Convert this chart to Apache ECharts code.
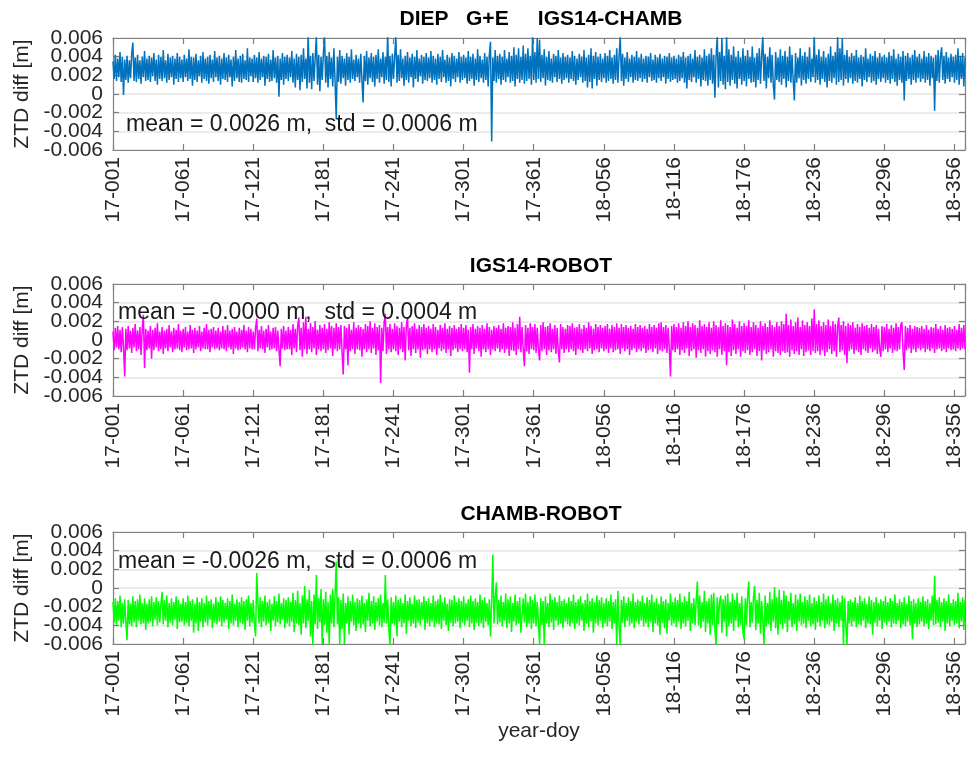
<!DOCTYPE html>
<html>
<head>
<meta charset="utf-8">
<script src="https://cdn.jsdelivr.net/npm/echarts@6/dist/echarts.min.js"></script>
<style>
html,body{margin:0;padding:0;background:#ffffff;}
#chart{width:967px;height:757px;}
</style>
</head>
<body>
<div id="chart"></div>
<script>
// ---- data ----
const FIRST_DAY = 1;          // 17-001, one value per day
const UNIT = 1e-4;            // stored values are in units of 0.1 mm

const xTickDays   = [1, 61, 121, 181, 241, 301, 361, 421, 481, 541, 601, 661, 721];
const xTickLabels = ['17-001','17-061','17-121','17-181','17-241','17-301','17-361',
                     '18-056','18-116','18-176','18-236','18-296','18-356'];
const yTickValues = [-0.006, -0.004, -0.002, 0, 0.002, 0.004, 0.006];
const yTickLabels = ['-0.006','-0.004','-0.002','0','0.002','0.004','0.006'];

const panelTitles = ['DIEP   G+E     IGS14-CHAMB', 'IGS14-ROBOT', 'CHAMB-ROBOT'];
const statsTexts  = ['mean = 0.0026 m,  std = 0.0006 m',
                     'mean = -0.0000 m,  std = 0.0004 m',
                     'mean = -0.0026 m,  std = 0.0006 m'];
const seriesColors = ['#0072BD', '#FF00FF', '#00FF00'];

// IGS14-CHAMB ZTD difference (0.1 mm)
const igsChamb = [
35,16,42,14,38,18,45,13,40,-1,37,15,41,12,36,17,43,55,14,39,13,42,16,36,11,40,18,46,14,38,
15,41,13,39,19,44,14,37,10,42,16,40,14,47,17,36,12,43,15,39,18,41,10,38,16,44,13,40,17,37,
13,42,18,38,14,48,16,40,9,39,15,43,13,36,19,41,12,45,16,38,14,40,11,42,17,37,13,46,18,39,
14,41,10,38,16,44,15,39,13,42,18,37,8,40,14,47,17,38,13,41,12,43,16,36,15,49,13,39,19,38,
13,42,17,39,12,45,15,38,18,41,9,40,16,43,13,37,14,47,17,39,12,41,-3,38,15,44,10,40,16,42,
14,39,18,46,12,38,7,43,15,40,4,42,13,49,16,38,6,65,12,41,5,44,14,39,62,10,42,3,40,15,
43,62,12,41,7,45,16,39,8,49,14,-27,40,13,47,11,41,17,38,9,44,15,40,12,48,16,37,14,42,18,
38,12,43,15,-9,41,14,46,10,39,17,44,13,40,8,42,16,48,12,38,18,45,11,40,15,65,13,41,8,43,
16,40,62,12,42,14,48,17,38,9,41,15,45,12,39,18,43,7,40,16,47,13,38,19,42,11,40,15,44,14,
39,17,46,12,41,15,38,10,43,16,40,13,47,18,37,12,42,14,39,8,44,16,41,13,38,18,45,12,40,15,
42,17,39,11,46,14,40,16,43,9,38,15,48,13,41,17,37,12,44,15,40,8,42,56,-51,39,14,47,12,41,
16,43,10,40,15,47,13,38,18,45,12,41,14,50,8,42,16,49,12,40,15,52,11,43,14,49,16,41,10,62,
15,45,12,60,16,58,13,42,17,48,9,40,15,46,14,38,12,43,18,41,13,47,16,39,11,44,15,40,17,42,
12,39,16,46,14,41,10,38,15,43,18,40,12,47,14,39,7,42,13,49,6,41,16,45,9,40,15,43,13,38,
17,44,12,41,14,47,16,39,11,42,15,49,12,40,62,14,43,9,39,16,45,13,38,18,42,12,40,15,46,14,
39,17,43,13,38,16,41,12,40,18,44,14,37,15,42,12,39,17,43,14,38,18,41,11,40,16,44,13,39,15,
41,16,38,12,42,14,40,17,45,12,39,6,41,15,43,13,38,18,47,12,40,16,42,8,39,15,48,14,41,9,
43,15,49,11,42,-4,40,62,7,45,14,60,10,41,5,62,13,48,9,42,15,51,11,40,6,46,16,39,10,49,
14,41,8,47,16,40,12,51,13,39,7,44,15,49,11,41,62,14,43,6,40,17,50,12,42,9,-6,45,15,39,
13,48,10,41,16,46,7,40,14,51,12,42,15,-7,44,12,39,17,49,9,41,15,45,11,40,16,50,13,38,18,
62,12,42,15,48,10,40,16,46,13,39,7,43,14,51,12,41,17,45,10,62,13,49,15,60,9,42,16,47,12,
40,17,44,11,41,14,47,12,39,16,42,8,40,15,49,13,38,18,43,12,41,14,46,10,39,16,44,13,40,17,
42,12,39,15,45,11,41,16,48,13,38,9,43,15,40,12,46,-7,41,14,44,16,39,10,42,15,47,12,40,17,
43,13,38,16,46,12,40,15,44,9,41,17,39,-18,42,14,47,12,40,50,15,41,11,45,16,39,13,43,18,40,
12,42,15,49,10,41,16,44,8,39
];

// IGS14-ROBOT ZTD difference (0.1 mm)
const igsRobot = [
9,-11,13,-8,15,-10,11,-13,14,-8,-39,12,-11,15,-9,10,-14,13,-8,17,-12,10,-10,14,-16,11,27,-30,12,-11,
10,-9,15,-20,11,-11,13,-8,18,-12,9,-10,14,-15,10,-9,12,-12,16,-8,9,-13,13,-10,11,-9,17,-11,10,-13,
12,-8,14,-11,9,-10,16,-9,11,-14,13,-10,10,-8,15,-12,9,-9,13,-10,17,-10,11,-13,12,-8,14,-10,10,-9,
13,-11,9,-9,15,-10,11,-12,16,-8,10,-10,12,-15,14,-9,9,-11,13,-10,11,-8,16,-10,10,-13,14,-9,12,-10,
9,-10,13,23,-12,11,-9,15,-10,10,-14,12,-8,16,-11,9,-10,13,-9,14,-12,10,-10,-28,12,-9,15,-11,10,-10,
14,-10,11,-16,17,-9,12,-13,15,24,-11,13,-18,19,-10,25,-15,12,-10,18,-13,14,-9,20,-16,11,-10,16,-12,13,
-10,17,-14,12,-11,19,-9,15,-17,13,-10,18,-12,14,-10,16,-13,-37,15,-10,13,-27,17,-12,11,-10,19,-15,13,-10,
16,-11,14,-18,12,-10,17,-13,15,-10,20,-14,13,-9,18,-16,14,-11,16,-46,13,-12,19,28,-15,14,-10,17,-13,12,
-10,18,-12,15,-16,13,-10,19,-13,14,-22,16,24,-11,13,-17,15,-10,18,-14,12,-10,16,-19,14,-11,17,-10,13,-15,
15,-10,12,-13,17,-10,14,-16,11,-9,16,-12,13,-10,18,-14,12,-10,15,-17,13,-11,16,-9,12,-13,14,-10,17,-12,
13,-10,16,-13,11,-35,14,-10,17,-15,12,-9,15,-12,13,-18,16,-10,12,-13,18,-10,14,-16,11,-10,15,-12,13,-9,
16,-13,12,-10,18,-14,13,-10,15,-17,14,-11,19,-12,13,-16,17,-10,25,-13,14,-10,-28,16,-12,13,-15,18,-10,14,
-11,17,-14,13,-10,-22,16,-12,19,-10,14,-16,15,-11,18,-13,12,-10,16,-15,13,-12,-24,17,-10,14,-14,12,-10,16,
-13,15,-10,18,-12,13,-16,14,-10,17,-11,12,-14,16,-10,13,-12,19,-9,15,-15,12,-11,17,-10,14,-13,16,-9,13,
-12,15,-10,17,-14,12,-9,16,-13,14,-11,18,-10,13,-15,17,-9,14,-12,16,-10,13,-16,15,-11,12,-9,17,-13,14,
-10,16,-12,13,-9,15,-14,12,-11,17,-10,14,-13,16,-9,13,-15,18,-11,19,-12,14,-10,16,-14,13,-9,-39,15,-11,
17,-13,14,-10,18,-16,13,-11,19,-14,15,-9,20,-17,14,-12,18,-10,16,-19,13,-11,21,-14,15,-10,17,-18,14,-12,
19,-15,13,-11,20,-13,16,-18,14,-10,21,-16,15,-12,18,-27,16,-13,14,-17,22,-11,17,-15,13,-10,20,-18,15,-12,
18,-14,15,-11,21,-16,14,-13,19,-10,16,-17,13,-12,20,-22,15,-11,18,-15,14,-13,21,-10,16,-18,14,-12,19,-14,
15,-16,20,-12,17,-14,28,-13,16,-18,22,-11,15,-15,19,-12,24,-16,14,-10,21,-17,16,-13,19,-11,15,-16,23,-12,
33,-14,17,-12,21,-16,15,-11,19,-17,16,-13,22,-10,15,-15,20,-12,17,-18,14,24,-13,16,-11,20,-16,15,-25,18,
-12,16,-10,19,-15,13,-11,17,-13,14,-16,18,-10,15,-12,16,-14,13,-9,17,-13,14,-11,16,-15,12,-10,-18,15,-12,
14,-10,17,-13,12,-9,16,-14,13,-11,18,-12,14,-10,16,19,-13,-32,15,-11,13,-9,16,-14,12,-10,15,-13,14,-9,
13,-11,15,-9,12,-13,16,-10,11,-12,14,-9,13,-14,17,-10,12,-9,15,-12,11,-10,16,-13,13,-9,14,-11,12,-10,
15,-12,11,-9,17,-11,13,-9,16,-10
];

// CHAMB-ROBOT ZTD difference (0.1 mm)
const chambRobot = [
-15,-37,-11,-40,-14,-35,-8,-42,-16,-38,-12,-36,-56,-13,-39,-17,-41,-9,-37,-14,-42,-12,-35,-7,-39,-16,-38,-11,-45,-17,
-38,-12,-36,-9,-41,-15,-34,-10,-40,-14,-37,-17,-4,-39,-13,-35,-8,-42,-16,-37,-11,-40,-15,-34,-9,-44,-13,-37,-17,-36,
-11,-40,-15,-37,-8,-41,-14,-35,-12,-48,-17,-38,-10,-46,-15,-36,-11,-42,-16,-37,-8,-40,-14,-34,-12,-43,-17,-37,-10,-39,
-15,-36,-9,-41,-13,-37,-16,-34,-11,-44,-14,-38,-7,-40,-17,-35,-12,-42,-15,-37,-10,-39,-14,-45,-12,-35,-8,-41,-16,-37,
-13,-39,-52,16,-16,-38,-10,-42,-14,-36,-8,-40,-15,-37,-12,-46,-17,-35,-9,-41,-14,-37,-6,-39,-16,-34,-11,-43,-13,-38,
-10,-41,-15,-36,-5,-47,-13,-38,-3,-40,-16,-50,-8,-38,2,-43,-12,-35,-2,-52,-14,-62,-7,-39,14,-44,-11,-37,-1,-60,
-12,-40,-4,-48,-15,-62,-7,-38,-1,-42,-40,28,-39,-10,-62,-13,-44,-6,-60,-16,-38,-9,-50,-14,-36,-7,-40,-15,-46,-11,
-38,-13,-43,-8,-39,-16,-47,-12,-35,-5,-41,-14,-38,-9,-45,-15,-36,-11,-40,-7,-42,-16,-37,14,-38,-12,-44,-62,-10,-38,
-15,-40,-8,-52,-13,-36,-11,-42,-16,-38,-7,-49,-14,-35,-10,-41,-17,-38,-8,-43,-13,-37,-12,-40,-15,-34,-9,-45,-14,-38,
-11,-41,-16,-36,-8,-42,-14,-38,-12,-39,-7,-44,-15,-35,-10,-40,-17,-46,-12,-37,-13,-41,-8,-38,-15,-36,-11,-43,-14,-37,
-9,-40,-16,-35,-12,-42,-8,-38,-14,-45,-11,-37,-15,-41,-7,-38,-13,-43,-10,-36,-16,-40,-12,-52,-15,36,-38,-11,6,-39,
-13,-37,-8,-41,-15,-35,-6,-43,-12,-38,-9,-47,-16,-36,-7,-40,-14,-38,-10,-48,-48,-11,-37,-6,-42,-15,-38,-9,-44,-13,
-38,-7,-41,-15,-36,-62,-11,-40,-14,-62,-9,-38,-16,-42,-6,-37,-13,-45,-10,-35,-15,-40,-8,-38,-14,-43,-12,-36,-16,-39,
-10,-41,-14,-37,-7,-44,-15,-38,-12,-40,-9,-35,-16,-46,-13,-38,-6,-42,-14,-36,-11,-48,-15,-38,-8,-40,-13,-35,-10,-43,
-16,-38,-11,-41,-14,-36,-7,-44,-15,-38,-12,-62,-3,-40,-62,-13,-37,-9,-42,-16,-35,-10,-40,-14,-38,-6,-43,-15,-36,-12,
-39,-14,-35,-8,-41,-16,-38,-10,-42,-13,-36,-7,-47,-15,-38,-11,-40,-17,-50,-9,-37,-14,-43,-12,-49,-16,-35,-6,-40,-15,
-38,-10,-42,-13,-36,-6,-44,-15,-38,-9,-41,-14,-35,-4,-46,-16,-38,-11,-40,-13,7,-40,-8,-43,-15,-36,-3,-47,-14,-38,
-11,-50,-7,-40,-5,-44,-62,-10,-39,-14,-8,-48,-12,-36,-8,-52,-6,-41,-15,-38,-6,-46,-13,-35,-5,-42,-16,-40,-9,-47,
-55,-11,-40,-7,7,-42,-15,-37,-10,2,-45,-13,-38,-5,-49,-14,-35,-62,-8,-41,-16,-39,-4,-46,-12,-36,1,-43,-10,-50,
-2,-39,-13,-44,-3,-38,-8,-47,-14,-35,-5,-42,-16,-39,-7,-46,-12,-36,-6,-40,-15,-38,-9,-43,-13,-35,-7,-41,-16,-39,
-10,-45,-14,-37,-8,-41,-15,-35,-6,-43,-12,-39,-9,-40,-16,-36,-7,-46,-13,-38,-11,-42,-15,-35,-8,-62,-11,-40,-62,-14,
-38,-12,-41,-15,-36,-10,-42,-16,-39,-8,-40,-14,-35,-11,-43,-17,-38,-9,-39,-13,-50,-15,-37,-10,-41,-16,-35,-12,-44,-14,
-37,-9,-40,-15,-36,-11,-42,-14,-38,-7,-39,-16,-35,-12,-43,-15,-39,-10,-41,-17,-36,-8,-40,-14,-55,-12,-38,-16,-42,-11,
-39,-15,-36,-9,-41,-14,-38,-12,-44,-16,-35,-8,-40,13,-39,-13,-37,-10,-42,-15,-36,-11,-46,-14,-38,-7,-41,-16,-35,-12,
-40,-14,-38,-5,-43,-15,-36,-10,-45,-12
];

// ---- chart ----
const FONT = '"Liberation Sans", Arial, Helvetica, sans-serif';
const TEXT_COLOR = '#262626';
const BOX_COLOR = '#7f7f7f';
const panels = [igsChamb, igsRobot, chambRobot];
const gridTops = [38, 284, 532];
const GRID_LEFT = 113, GRID_WIDTH = 852, GRID_HEIGHT = 112;
const Y_MIN = yTickValues[0], Y_MAX = yTickValues[yTickValues.length - 1];

function toSeriesData(vals) {
  return vals.map((v, i) => [FIRST_DAY + i, v * UNIT]);
}
function xLabel(v) {
  const k = xTickDays.indexOf(Math.round(v));
  return (k >= 0 && Math.abs(v - xTickDays[k]) < 1e-6) ? xTickLabels[k] : '';
}
function yLabel(v) {
  let best = -1, bd = Infinity;
  yTickValues.forEach((t, i) => { const d = Math.abs(t - v); if (d < bd) { bd = d; best = i; } });
  return bd < 1e-9 ? yTickLabels[best] : '';
}

const grids = [], xAxes = [], yAxes = [], series = [], graphics = [];
const yLabelStyle = { show: true, margin: 10, fontSize: 21, color: TEXT_COLOR, fontFamily: FONT,
                      formatter: yLabel, hideOverlap: false };
panels.forEach((vals, p) => {
  grids.push({ left: GRID_LEFT, top: gridTops[p], width: GRID_WIDTH, height: GRID_HEIGHT,
               containLabel: false, outerBoundsMode: 'none' });
  const xBase = {
    gridIndex: p, type: 'value', min: FIRST_DAY, max: 730, interval: 60,
    axisLine: { show: true, onZero: false, lineStyle: { color: BOX_COLOR, width: 1.2 } },
    axisTick: { show: true, inside: true, length: 6, lineStyle: { color: BOX_COLOR, width: 1.2 } },
    splitLine: { show: false }
  };
  xAxes.push(Object.assign({}, xBase, {
    position: 'bottom',
    axisLabel: { show: true, rotate: 90, margin: 7, fontSize: 21, color: TEXT_COLOR,
                 fontFamily: FONT, formatter: xLabel, hideOverlap: false,
                 showMinLabel: true, showMaxLabel: true },
    name: p === 2 ? 'year-doy' : '', nameLocation: 'middle', nameGap: 60,
    nameTextStyle: { fontSize: 21, color: TEXT_COLOR, fontFamily: FONT }
  }));
  xAxes.push(Object.assign({}, xBase, { position: 'top', axisLabel: { show: false } }));
  const yBase = {
    gridIndex: p, type: 'value', min: Y_MIN, max: Y_MAX, interval: 0.002,
    axisLine: { show: true, onZero: false, lineStyle: { color: BOX_COLOR, width: 1.2 } },
    axisTick: { show: true, inside: true, length: 6, lineStyle: { color: BOX_COLOR, width: 1.2 } }
  };
  // main left axis: box line, ticks, grid lines, inner labels
  yAxes.push(Object.assign({}, yBase, {
    position: 'left',
    axisLabel: Object.assign({}, yLabelStyle, { showMinLabel: false, showMaxLabel: false }),
    splitLine: { show: true, lineStyle: { color: '#e6e6e6', width: 1.5 } },
    name: 'ZTD diff [m]', nameLocation: 'middle', nameGap: 72, nameRotate: 90,
    nameTextStyle: { fontSize: 21, color: TEXT_COLOR, fontFamily: FONT }
  }));
  // right box side with ticks
  yAxes.push(Object.assign({}, yBase, { position: 'right', axisLabel: { show: false },
                                        splitLine: { show: false } }));
  // extra left axis carrying only the end labels (min / max)
  yAxes.push({
    gridIndex: p, type: 'value', min: Y_MIN, max: Y_MAX, interval: Y_MAX - Y_MIN,
    position: 'left', offset: 0,
    axisLine: { show: false }, axisTick: { show: false }, splitLine: { show: false },
    axisLabel: Object.assign({}, yLabelStyle, { showMinLabel: true, showMaxLabel: true })
  });
  series.push({
    type: 'line', xAxisIndex: 2 * p, yAxisIndex: 3 * p,
    data: toSeriesData(vals), showSymbol: false, symbol: 'none', clip: true,
    lineStyle: { color: seriesColors[p], width: 1.5 }, itemStyle: { color: seriesColors[p] },
    animation: false, silent: true, z: 2
  });
});

const titlePos = [[541, 19], [541, 266], [541, 514]];
const statsPos = [[126, 125], [118, 313], [118, 562]];
panelTitles.forEach((t, p) => {
  graphics.push({ type: 'text', x: titlePos[p][0], y: titlePos[p][1], z: 100,
    style: { text: t, fill: '#000', font: 'bold 21px ' + FONT,
             textAlign: 'center', textVerticalAlign: 'middle', align: 'center', verticalAlign: 'middle' } });
});
statsTexts.forEach((t, p) => {
  graphics.push({ type: 'text', x: statsPos[p][0], y: statsPos[p][1], z: 100,
    style: { text: t, fill: '#1a1a1a', font: '23px ' + FONT,
             textAlign: 'left', textVerticalAlign: 'middle', align: 'left', verticalAlign: 'middle' } });
});

const chart = echarts.init(document.getElementById('chart'), null, { renderer: 'canvas' });
chart.setOption({
  animation: false,
  backgroundColor: '#ffffff',
  textStyle: { fontFamily: FONT },
  grid: grids, xAxis: xAxes, yAxis: yAxes, series: series, graphic: graphics
});
</script>
</body>
</html>
